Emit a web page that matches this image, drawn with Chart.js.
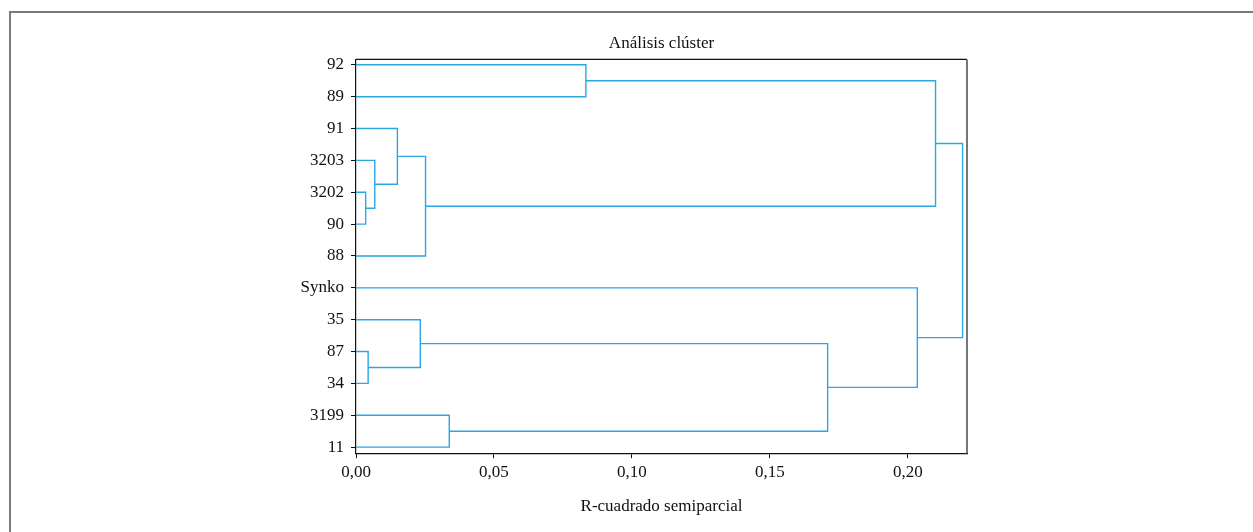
<!DOCTYPE html>
<html>
<head>
<meta charset="utf-8">
<script src="https://cdn.jsdelivr.net/npm/chart.js@4.4.1/dist/chart.umd.min.js"></script>
<style>
  html, body { margin: 0; padding: 0; background: #fff; }
  #wrap { width: 1253px; height: 532px; position: relative; }
</style>
</head>
<body>
<div id="wrap"><canvas id="chart-cluster"></canvas></div>
<script>
// Hojas del dendrograma, de arriba abajo
const leaves = ['92', '89', '91', '3203', '3202', '90', '88', 'Synko', '35', '87', '34', '3199', '11'];

// Uniones: índices 0-12 = hojas, 13+ = nodos creados en orden
const mergeA = [4, 3, 2, 15, 0, 17, 9, 8, 11, 20, 7, 18];
const mergeB = [5, 13, 14, 6, 1, 16, 10, 19, 12, 21, 22, 23];
const mergeHeights = [0.0035, 0.0068, 0.0150, 0.0252, 0.0833, 0.2100, 0.0044, 0.0233, 0.0338, 0.1709, 0.2034, 0.2198];

const xTicks = [0, 0.05, 0.10, 0.15, 0.20];
const LINE_COLOR = 'rgb(41,168,225)';
const FONT = { family: '"Liberation Serif", "DejaVu Serif", serif', size: 17 };

// posición vertical y altura de cada nodo
const pos = leaves.map((_, i) => i);
const height = leaves.map(() => 0);
mergeA.forEach((a, k) => {
    const b = mergeB[k];
    pos.push((pos[a] + pos[b]) / 2);
    height.push(mergeHeights[k]);
});

const datasets = mergeA.map((a, k) => {
    const b = mergeB[k];
    const h = mergeHeights[k];
    return {
        data: [
            { x: height[a], y: pos[a] },
            { x: h, y: pos[a] },
            { x: h, y: pos[b] },
            { x: height[b], y: pos[b] }
        ],
        showLine: true,
        borderColor: LINE_COLOR,
        borderWidth: 1.4,
        pointRadius: 0,
        fill: false,
        tension: 0
    };
});

const framePlugin = {
    id: 'frame',
    beforeDraw(chart) {
        const c = chart.ctx;
        c.save();
        c.strokeStyle = '#7a7a7a';
        c.lineWidth = 2;
        c.beginPath();
        c.moveTo(10, 600);
        c.lineTo(10, 12);
        c.lineTo(1300, 12);
        c.stroke();
        c.restore();
    },
    afterDraw(chart) {
        const a = chart.chartArea;
        const c = chart.ctx;
        c.save();
        c.strokeStyle = '#111';
        c.lineWidth = 1.2;
        c.beginPath();
        c.moveTo(a.left, a.top);
        c.lineTo(a.right, a.top);
        c.stroke();
        c.strokeStyle = '#777';
        c.lineWidth = 2;
        c.beginPath();
        c.moveTo(a.right, a.top);
        c.lineTo(a.right, a.bottom);
        c.stroke();
        c.restore();
    }
};

new Chart(document.getElementById('chart-cluster'), {
    type: 'scatter',
    data: { datasets },
    plugins: [framePlugin],
    options: {
        responsive: true, maintainAspectRatio: false,
        animation: false,
        layout: { padding: { left: 290, right: 286, top: 33, bottom: 15 } },
        plugins: {
            legend: { display: false },
            tooltip: { enabled: false },
            title: {
                display: true,
                text: 'Análisis clúster',
                fullSize: false,
                color: '#111',
                font: { ...FONT, weight: 'normal' },
                padding: { top: 0, bottom: 6 }
            }
        },
        scales: {
            x: {
                type: 'linear',
                min: 0, max: 0.2214,
                afterBuildTicks: s => { s.ticks = xTicks.map(v => ({ value: v })); },
                ticks: { color: '#111', font: FONT, padding: 4, callback: v => v.toFixed(2).replace('.', ',') },
                grid: { drawOnChartArea: false, tickLength: 5, tickColor: '#111' },
                border: { color: '#111', width: 1.2 },
                title: { display: true, text: 'R-cuadrado semiparcial', color: '#111', font: FONT, padding: { top: 10, bottom: 0 } }
            },
            y: {
                type: 'linear',
                reverse: true,
                min: -0.17, max: 12.19,
                afterBuildTicks: s => { s.ticks = leaves.map((_, i) => ({ value: i })); },
                afterFit: s => { s.width = 66; },
                ticks: { color: '#111', font: FONT, padding: 7, callback: v => leaves[v] },
                grid: { drawOnChartArea: false, tickLength: 5, tickColor: '#111' },
                border: { color: '#111', width: 1.2 }
            }
        }
    }
});
</script>
</body>
</html>
